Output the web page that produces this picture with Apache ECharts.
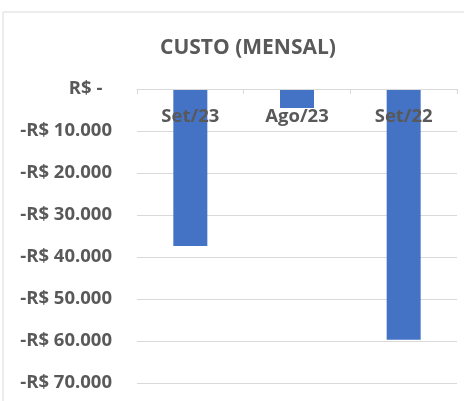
<!DOCTYPE html>
<html>
<head>
<meta charset="utf-8">
<script src="https://cdn.jsdelivr.net/npm/echarts@6/dist/echarts.min.js"></script>
<style>
  html, body { margin: 0; padding: 0; background: #fff; }
  #chart { width: 464px; height: 401px; }
</style>
</head>
<body>
<div id="chart"></div>
<script>
// dados
const months = ['Set/23', 'Ago/23', 'Set/22']
const custo = [-37400, -4500, -59700]
const yTicks = [0, -10000, -20000, -30000, -40000, -50000, -60000, -70000]

const fmtBRL = (v) => {
  if (v === 0) return 'R$ -  '
  return '-R$ ' + Math.abs(v).toLocaleString('pt-BR')
}

const FONT = '"Open Sans"'

const chart = echarts.init(document.getElementById('chart'))

const option = {
  animation: false,
  backgroundColor: '#fff',
  title: {
    text: 'CUSTO (MENSAL)',
    left: 155,
    top: 33,
    textStyle: {
      fontFamily: FONT,
      fontSize: 21,
      fontWeight: 'bold',
      color: '#595959'
    }
  },
  graphic: [
    { type: 'line', shape: { x1: 3, y1: 12, x2: 464, y2: 12 }, style: { stroke: '#d9d9d9', lineWidth: 1 } },
    { type: 'line', shape: { x1: 3, y1: 12, x2: 3, y2: 401 }, style: { stroke: '#d9d9d9', lineWidth: 1 } }
  ],
  grid: {
    left: 137,
    right: 7,
    top: 89,
    bottom: 18
  },
  xAxis: {
    type: 'category',
    data: months,
    position: 'top',
    z: 5,
    axisLine: { lineStyle: { color: '#d9d9d9' } },
    axisTick: { show: true, inside: true, length: 5, lineStyle: { color: '#d9d9d9' } },
    axisLabel: {
      inside: true,
      margin: 18,
      fontFamily: FONT,
      fontSize: 18.5,
      fontWeight: 'bold',
      color: '#595959'
    }
  },
  yAxis: {
    type: 'value',
    min: yTicks[yTicks.length - 1],
    max: yTicks[0],
    interval: 10000,
    axisLine: { show: false },
    axisTick: { show: false },
    splitLine: { lineStyle: { color: '#d9d9d9' } },
    axisLabel: {
      margin: 25,
      fontFamily: FONT,
      fontSize: 18.5,
      fontWeight: 'bold',
      color: '#595959',
      formatter: fmtBRL
    }
  },
  series: [
    {
      type: 'bar',
      data: custo,
      barWidth: 34,
      itemStyle: { color: '#4472C4' }
    }
  ]
}

chart.setOption(option)
</script>
</body>
</html>
